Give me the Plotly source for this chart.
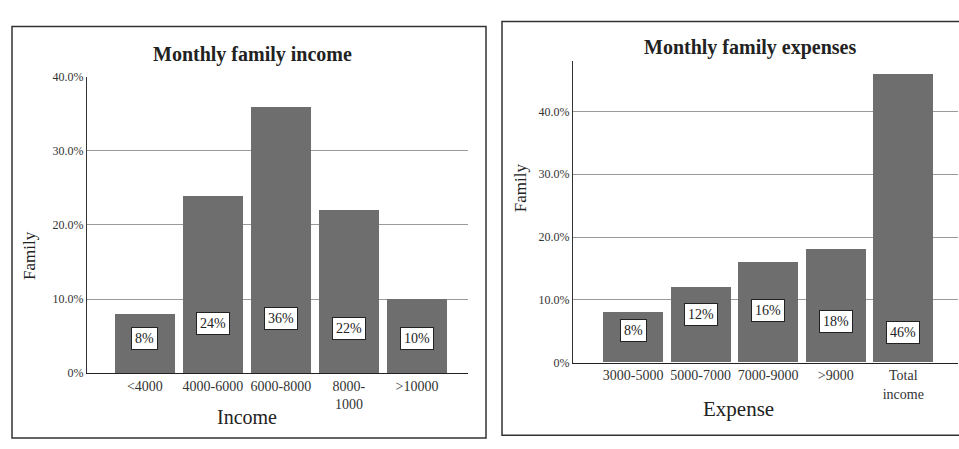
import plotly.graph_objects as go

# Monthly family income distribution (percent of families)
income_bins = ["<4000", "4000-6000", "6000-8000", "8000-<br>1000", ">10000"]
income_pct = [8, 24, 36, 22, 10]

# Monthly family expenses distribution (percent of families)
expense_bins = ["3000-5000", "5000-7000", "7000-9000", ">9000", "Total<br>income"]
expense_pct = [8, 12, 16, 18, 46]

# Y axis ticks
y_ticks = [0, 10, 20, 30, 40]
y_tick_text = ["0%", "10.0%", "20.0%", "30.0%", "40.0%"]

W, H = 959, 449
SERIF = "Liberation Serif, Times New Roman, serif"
BAR = "#6e6e6e"
GRID = "#9a9a9a"

# vertical pixel offset of each value box above the baseline
income_box_shift = [35, 50, 55, 45, 35]
expense_box_shift = [32, 48, 52, 41, 30]


def px(x):
    return x / W


def py(y):
    return 1 - y / H


fig = go.Figure()
fig.add_trace(go.Bar(x=income_bins, y=income_pct, marker_color=BAR,
                     marker_line_width=0, width=0.88, xaxis="x", yaxis="y",
                     showlegend=False, hoverinfo="x+y"))
fig.add_trace(go.Bar(x=expense_bins, y=expense_pct, marker_color=BAR,
                     marker_line_width=0, width=0.89, xaxis="x2", yaxis="y2",
                     showlegend=False, hoverinfo="x+y"))

axis_common = dict(
    showgrid=False, zeroline=False, showline=True, linecolor="#222",
    linewidth=1, ticks="", tickfont=dict(family=SERIF, size=14, color="#333"),
)
yaxis_common = dict(
    tickvals=y_ticks, ticktext=y_tick_text, showgrid=True, gridcolor=GRID,
    gridwidth=1, zeroline=False, showline=True, linecolor="#333", linewidth=1,
    ticks="", tickfont=dict(family=SERIF, size=12, color="#333"),
)

annotations = []


def label(text, x, y, size, bold=False, angle=0):
    annotations.append(dict(
        text=f"<b>{text}</b>" if bold else text, x=px(x), y=py(y),
        xref="paper", yref="paper", showarrow=False, textangle=angle,
        xanchor="center", yanchor="middle",
        font=dict(family=SERIF, size=size, color="#222"),
    ))


# value boxes sitting near the foot of each bar
for cats, vals, shifts, xr, yr in [
    (income_bins, income_pct, income_box_shift, "x", "y"),
    (expense_bins, expense_pct, expense_box_shift, "x2", "y2"),
]:
    for c, v, s in zip(cats, vals, shifts):
        annotations.append(dict(
            x=c, y=0, xref=xr, yref=yr, yshift=s, text=f"{v}%",
            showarrow=False, bgcolor="white", bordercolor="#222",
            borderwidth=1, borderpad=3,
            font=dict(family=SERIF, size=14, color="#222"),
        ))

label("Monthly family income", 252, 49, 20, bold=True)
label("Monthly family expenses", 750, 42, 20, bold=True)
label("Family", 30, 257, 17, angle=-90)
label("Family", 520, 187, 17, angle=-90)
label("Income", 247, 423, 20)
label("Expense", 738, 415, 21)

# frames around both panels
shapes = [
    dict(type="rect", xref="paper", yref="paper", x0=px(12), x1=px(486),
         y0=py(445), y1=py(20), line=dict(color="#333", width=1.5)),
    dict(type="rect", xref="paper", yref="paper", x0=px(502), x1=px(975),
         y0=py(442), y1=py(15), line=dict(color="#333", width=1.5)),
]

fig.update_layout(
    width=W, height=H, margin=dict(l=0, r=0, t=0, b=0),
    paper_bgcolor="white", plot_bgcolor="white", bargap=0,
    xaxis=dict(domain=[px(87), px(468)], range=[-0.85, 4.75], anchor="y",
               **axis_common),
    yaxis=dict(domain=[py(378), py(72)], range=[0, 40], anchor="x",
               **yaxis_common),
    xaxis2=dict(domain=[px(573), px(958)], range=[-0.89, 4.81], anchor="y2",
                **axis_common),
    yaxis2=dict(domain=[py(367), py(56)], range=[0, 48], anchor="x2",
                **yaxis_common),
    annotations=annotations, shapes=shapes,
)

fig.write_html("out.html")
